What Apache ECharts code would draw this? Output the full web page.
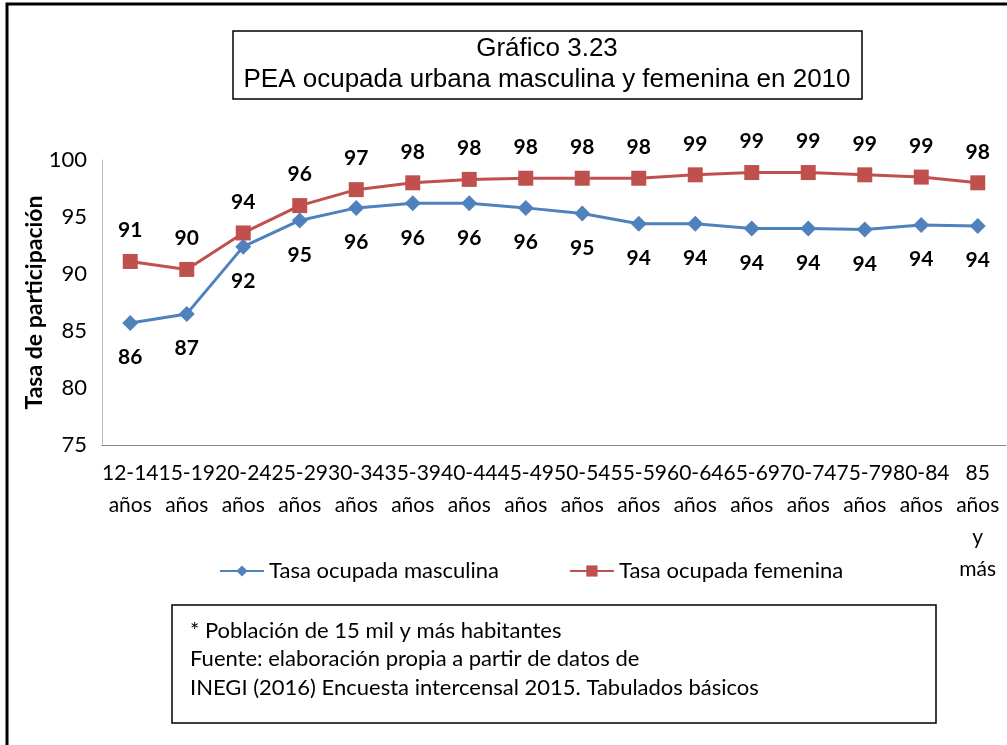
<!DOCTYPE html>
<html>
<head>
<meta charset="utf-8">
<script src="https://cdn.jsdelivr.net/npm/echarts@6/dist/echarts.min.js"></script>
<style>
  html, body { margin: 0; padding: 0; background: #fff; }
  #main { width: 1007px; height: 745px; }
</style>
</head>
<body>
<div id="main"></div>
<script>
// grupos de edad
var categorias = [
  '12-14\naños', '15-19\naños', '20-24\naños', '25-29\naños', '30-34\naños',
  '35-39\naños', '40-44\naños', '45-49\naños', '50-54\naños', '55-59\naños',
  '60-64\naños', '65-69\naños', '70-74\naños', '75-79\naños', '80-84\naños',
  '85\naños\ny\nmás'
];

var masculina = [85.7, 86.5, 92.4, 94.7, 95.8, 96.2, 96.2, 95.8, 95.3, 94.4, 94.4, 94.0, 94.0, 93.9, 94.3, 94.2];
var femenina = [91.1, 90.4, 93.6, 96.0, 97.4, 98.0, 98.3, 98.4, 98.4, 98.4, 98.7, 98.9, 98.9, 98.7, 98.5, 98.0];

var tituloLineas = ['Gráfico 3.23', 'PEA ocupada urbana masculina y femenina en 2010'];
var notaLineas = [
  '* Población de 15 mil y más habitantes',
  'Fuente: elaboración propia a partir de datos de',
  'INEGI (2016) Encuesta intercensal 2015. Tabulados básicos'
];

var myChart = echarts.init(document.getElementById('main'));

var fuente = 'Lato, "Open Sans", sans-serif';

var option = {
  backgroundColor: '#fff',
  animation: false,
  grid: {
    left: 102,
    right: 1,
    top: 160,
    bottom: 300
  },
  legend: {
    left: 214,
    top: 555,
    itemWidth: 44,
    itemHeight: 14,
    itemGap: 70,
    textStyle: { fontFamily: fuente, fontSize: 22, color: '#000' },
    data: ['Tasa ocupada masculina', 'Tasa ocupada femenina']
  },
  xAxis: {
    type: 'category',
    data: categorias,
    boundaryGap: true,
    axisLine: { lineStyle: { color: '#888', width: 1 } },
    axisTick: { show: false },
    axisLabel: {
      interval: 0,
      margin: 12,
      fontFamily: fuente,
      fontSize: 21,
      lineHeight: 32,
      color: '#000'
    }
  },
  yAxis: {
    type: 'value',
    min: 75,
    max: 100,
    interval: 5,
    name: 'Tasa de participación',
    nameLocation: 'middle',
    nameGap: 56,
    nameMoveOverlap: false,
    nameTextStyle: { fontFamily: fuente, fontSize: 23, fontWeight: 'bold', color: '#000' },
    axisLine: { show: true, lineStyle: { color: '#bbb', width: 1 } },
    axisTick: { show: false },
    splitLine: { show: false },
    axisLabel: { margin: 15, fontFamily: fuente, fontSize: 22, color: '#000' }
  },
  series: [
    {
      name: 'Tasa ocupada masculina',
      type: 'line',
      data: masculina,
      symbol: 'diamond',
      symbolSize: 16,
      lineStyle: { color: '#4F81BD', width: 3 },
      itemStyle: { color: '#4F81BD' },
      label: {
        show: true,
        position: 'bottom',
        distance: 16,
        fontFamily: fuente,
        fontSize: 21,
        fontWeight: 'bold',
        color: '#000',
        formatter: function (p) { return Math.round(p.value); }
      }
    },
    {
      name: 'Tasa ocupada femenina',
      type: 'line',
      data: femenina,
      symbol: 'rect',
      symbolSize: 15,
      lineStyle: { color: '#C0504D', width: 3 },
      itemStyle: { color: '#C0504D' },
      label: {
        show: true,
        position: 'top',
        distance: 13,
        fontFamily: fuente,
        fontSize: 21,
        fontWeight: 'bold',
        color: '#000',
        formatter: function (p) { return Math.round(p.value); }
      }
    }
  ],
  graphic: [
    // marco exterior (solo lados izquierdo y superior visibles)
    {
      type: 'polyline',
      shape: { points: [[7, 745], [7, 4], [1007, 4]] },
      style: { stroke: '#000', lineWidth: 3, fill: null }
    },
    // caja del título
    {
      type: 'rect',
      shape: { x: 233, y: 31, width: 629, height: 68 },
      style: { fill: '#fff', stroke: '#000', lineWidth: 1.5 }
    },
    {
      type: 'text',
      x: 547, y: 49,
      style: {
        text: tituloLineas[0], align: 'center', verticalAlign: 'middle',
        font: '26px "Liberation Sans", Arial, sans-serif', fill: '#000'
      }
    },
    {
      type: 'text',
      x: 547, y: 80,
      style: {
        text: tituloLineas[1], align: 'center', verticalAlign: 'middle',
        font: '26px "Liberation Sans", Arial, sans-serif', fill: '#000'
      }
    },
    // caja de notas
    {
      type: 'rect',
      shape: { x: 172, y: 605, width: 764, height: 118 },
      style: { fill: '#fff', stroke: '#000', lineWidth: 1.5 }
    },
    {
      type: 'text',
      x: 190, y: 631,
      style: { text: notaLineas[0], verticalAlign: 'middle', font: '22px Lato, sans-serif', fill: '#000' }
    },
    {
      type: 'text',
      x: 190, y: 659,
      style: { text: notaLineas[1], verticalAlign: 'middle', font: '22px Lato, sans-serif', fill: '#000' }
    },
    {
      type: 'text',
      x: 190, y: 688,
      style: { text: notaLineas[2], verticalAlign: 'middle', font: '22px Lato, sans-serif', fill: '#000' }
    }
  ]
};

myChart.setOption(option);
</script>
</body>
</html>
